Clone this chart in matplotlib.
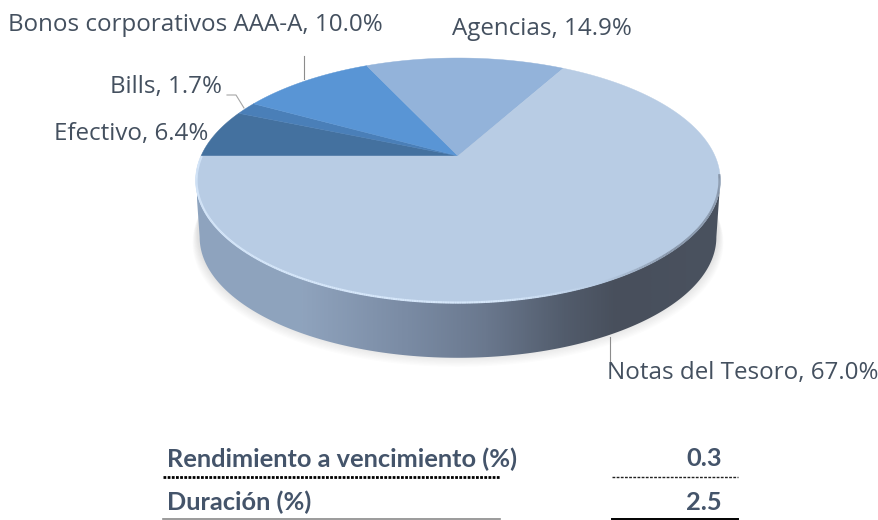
import numpy as np
import matplotlib
matplotlib.use('Agg')
import matplotlib.pyplot as plt
from matplotlib.collections import LineCollection
from matplotlib.colors import LinearSegmentedColormap, to_rgb
from matplotlib.patches import Polygon

# Composition of the portfolio, clockwise from the left edge of the pie
labels = ['Efectivo', 'Bills', 'Bonos corporativos AAA-A', 'Agencias', 'Notas del Tesoro']
shares = [6.4, 1.7, 10.0, 14.9, 67.0]
colors = ['#44719f', '#4a7fb8', '#5995d5', '#93b3da', '#b8cce4']

table_rows = ['Rendimiento a vencimiento (%)', 'Duración (%)']
table_values = ['0.3', '2.5']

TEXT = '#44505f'
TABLE = '#44546a'


def project(theta, dy=0.0, scale=1.0):
    # circle seen in perspective, far side shrinks
    k = 0.2
    X, Y = np.cos(theta), np.sin(theta)
    d = 1 + k * Y
    return 458 + 257 * scale * X / d, 156 + dy - 117.6 * scale * Y / d


fig = plt.figure(figsize=(8.79, 5.2), dpi=100)
ax = fig.add_axes([0, 0, 1, 1])
ax.set_xlim(0, 879)
ax.set_ylim(520, 0)
ax.axis('off')

# soft shadow under the disc
t = np.linspace(0, 2 * np.pi, 300)
for i in range(10):
    x, y = project(t, dy=62 - i, scale=1.012 - i * 0.002)
    ax.fill(x, y, color='#8a8a8a', alpha=0.025, lw=0, zorder=1)

# side of the disc, shaded left to right
t1 = np.pi + np.arcsin(0.2)
t2 = 2 * np.pi - np.arcsin(0.2)
arc = np.linspace(t1, t2, 300)
x_top, y_top = project(arc)
x_bot, y_bot = project(arc[::-1], dy=57, scale=0.985)
side = Polygon(np.c_[np.r_[x_top, x_bot], np.r_[y_top, y_bot]], closed=True,
               facecolor='none', edgecolor='none', transform=ax.transData)
ax.add_patch(side)
cmap = LinearSegmentedColormap.from_list(
    'side', [(0, '#8ea4bf'), (0.2, '#8fa3bd'), (0.4, '#7a8ba4'), (0.55, '#6a788e'),
             (0.7, '#525c6c'), (0.8, '#484f5c'), (1, '#4a525f')])
img = ax.imshow(np.linspace(0, 1, 512)[None, :], cmap=cmap, aspect='auto',
                extent=[197, 722, 380, 150], zorder=2)
img.set_clip_path(side)
ax.set_xlim(0, 879)
ax.set_ylim(520, 0)

# top face, slices from the shares
angle = np.pi
for share, color in zip(shares, colors):
    sweep = share / 100 * 2 * np.pi
    th = np.linspace(angle, angle - sweep, 200)
    x, y = project(th)
    ax.fill(np.r_[458, x], np.r_[156, y], color=color, lw=0.3, zorder=3)
    angle -= sweep

# bevel highlight along the front edge
arc = np.linspace(t1 - 0.2, t2 + 0.05, 400)
x, y = project(arc, scale=0.997)
pts = np.c_[x, y]
segs = np.stack([pts[:-1], pts[1:]], axis=1)
light = np.array(to_rgb('#d6e7fa'))
top = np.array(to_rgb('#b8cce4'))
dark = np.array(to_rgb('#8593a6'))
seg_colors = []
for sx in x[:-1]:
    if sx < 500:
        seg_colors.append(light)
    elif sx < 600:
        f = (sx - 500) / 100
        seg_colors.append(light * (1 - f) + top * f)
    else:
        f = min((sx - 600) / 70, 1)
        seg_colors.append(top * (1 - f) + dark * f)
ax.add_collection(LineCollection(segs, colors=seg_colors, linewidths=1.6, zorder=4))

# labels
label_font = dict(family='Open Sans', fontsize=17.4, color=TEXT, va='center', zorder=6)
ax.text(8, 25, f'{labels[2]}, {shares[2]:.1f}%', ha='left', **label_font)
ax.text(452, 29, f'{labels[3]}, {shares[3]:.1f}%', ha='left', **label_font)
ax.text(222, 87, f'{labels[1]}, {shares[1]:.1f}%', ha='right', **label_font)
ax.text(208, 134, f'{labels[0]}, {shares[0]:.1f}%', ha='right', **label_font)
ax.text(607, 373, f'{labels[4]}, {shares[4]:.1f}%', ha='left', **label_font)

# leader lines
ax.plot([304, 304], [56, 79], color='#8c8c8c', lw=0.8, zorder=5)
ax.plot([227, 236, 244], [95, 95, 108], color='#a6a6a6', lw=0.8, zorder=5)
ax.plot([610, 610], [337, 364], color='#8c8c8c', lw=0.8, zorder=5)

# table below the chart
table_font = dict(family='Lato', fontsize=18.3, fontweight='bold', color=TABLE, va='center')
ax.text(167, 459, table_rows[0], ha='left', **table_font)
ax.text(167, 502, table_rows[1], ha='left', **table_font)
ax.text(722, 459, table_values[0], ha='right', **table_font)
ax.text(722, 502, table_values[1], ha='right', **table_font)

ax.plot([163, 500], [477, 477], color='black', lw=2, ls=(0, (1, 0.5)))
ax.plot([612, 738], [477, 477], color='#222222', lw=1, ls=(0, (2, 1)))
ax.plot([163, 500], [519, 519], color='#8a8a8a', lw=1.2)
ax.plot([612, 738], [519, 519], color='black', lw=1.4)

fig.savefig('out.png', dpi=100)
